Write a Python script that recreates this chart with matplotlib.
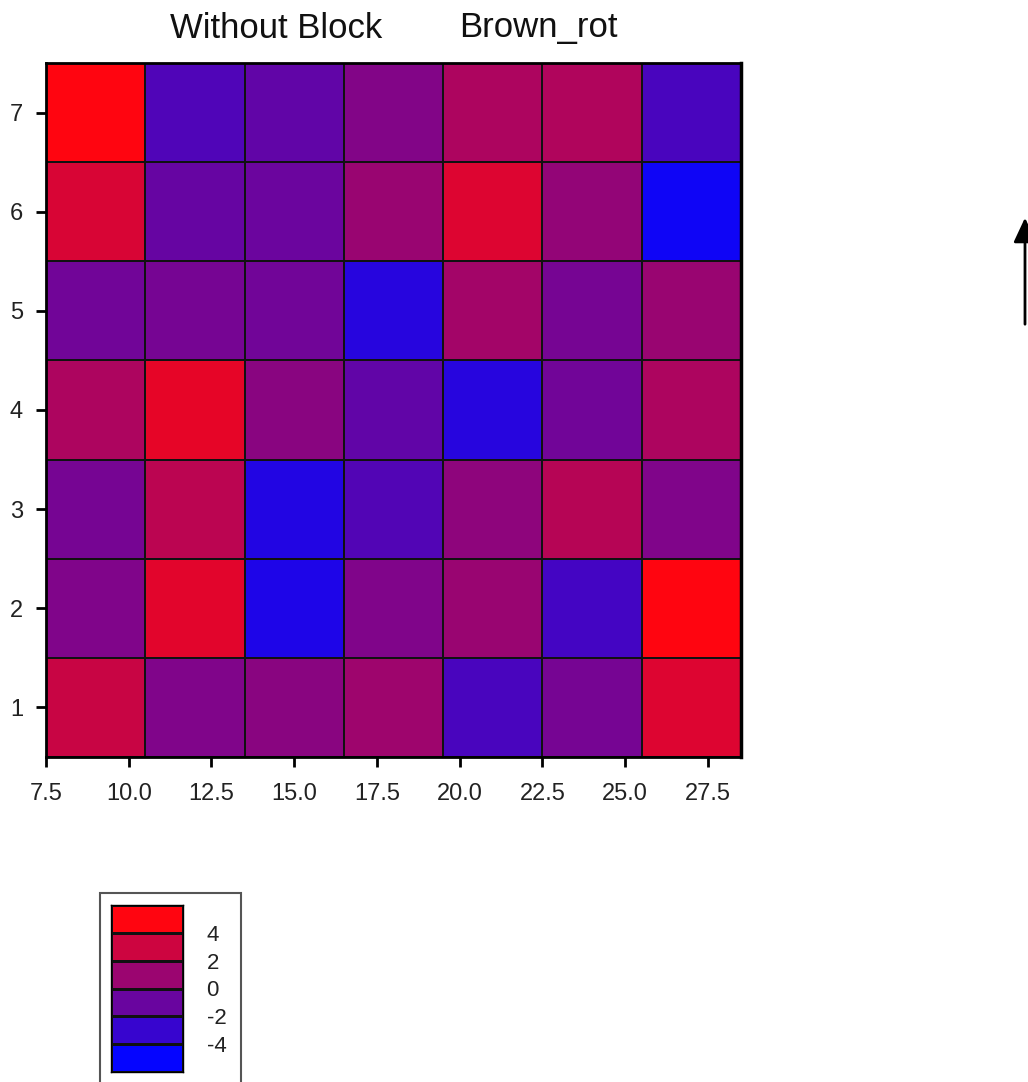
import matplotlib
matplotlib.use("Agg")
import matplotlib.pyplot as plt
import numpy as np
from matplotlib.colors import LinearSegmentedColormap, Normalize
from matplotlib.patches import Rectangle, FancyArrowPatch

plt.rcParams['font.family'] = ['Liberation Sans', 'DejaVu Sans']

# grid centres
x_centers = [9, 12, 15, 18, 21, 24, 27]
y_centers = [1, 2, 3, 4, 5, 6, 7]

# values per row, bottom (y=1) to top (y=7)
row1 = [2.8, -0.1, 0.3, 1.1, -2.3, -0.5, 3.6]
row2 = [-0.1, 3.8, -4.0, -0.1, 0.9, -2.5, 5.0]
row3 = [-0.5, 2.3, -3.8, -1.9, 0.5, 2.1, -0.1]
row4 = [1.7, 4.0, 0.3, -1.3, -3.6, -0.7, 1.7]
row5 = [-0.7, -0.5, -0.7, -3.6, 1.3, -0.5, 0.9]
row6 = [3.4, -1.1, -0.9, 0.9, 3.6, 0.7, -4.6]
row7 = [5.0, -2.0, -1.3, 0.0, 1.7, 1.8, -2.3]

x_ticks = [7.5, 10.0, 12.5, 15.0, 17.5, 20.0, 22.5, 25.0, 27.5]
legend_levels = [-4, -2, 0, 2, 4]
legend_blocks = [-5, -3, -1, 1, 3, 5]

Z = np.array([row1, row2, row3, row4, row5, row6, row7])
cmap = LinearSegmentedColormap.from_list('br', ['#0505ff', '#ff0510'])
norm = Normalize(vmin=-5, vmax=5)

W, H = 1028, 1082
fig = plt.figure(figsize=(W / 100, H / 100), dpi=100)

# main heatmap
ax = fig.add_axes([46 / W, 1 - 757 / H, (741 - 46) / W, (757 - 63) / H])
xe = np.concatenate([np.array(x_centers) - 1.5, [x_centers[-1] + 1.5]])
ye = np.concatenate([np.array(y_centers) - 0.5, [y_centers[-1] + 0.5]])
ax.pcolormesh(xe, ye, Z, cmap=cmap, norm=norm, edgecolors='#111111', linewidth=1.3)
ax.set_xlim(7.5, 28.5)
ax.set_ylim(0.5, 7.5)
ax.set_xticks(x_ticks)
ax.set_xticklabels(['%.1f' % v for v in x_ticks])
ax.set_yticks(y_centers)
ax.tick_params(axis='both', length=7.5, width=2, labelsize=17, labelcolor='#222222')
ax.tick_params(axis='x', pad=11)
ax.tick_params(axis='y', pad=9)
for s in ax.spines.values():
    s.set_linewidth(2)
ax.spines['right'].set_linewidth(2.5)

# title
fig.text(276 / W, 1 - 28 / H, 'Without Block', ha='center', va='center', fontsize=25, color='#111111')
fig.text(538 / W, 1 - 28 / H, 'Brown_rot', ha='center', va='center', fontsize=25, color='#111111')

# legend box
frame = Rectangle((100 / W, -0.05), (241 - 100) / W, (1 - 893 / H) + 0.05, transform=fig.transFigure,
                  fill=False, edgecolor='#555555', linewidth=1.5)
fig.patches.append(frame)
lax = fig.add_axes([111 / W, 1 - 1072 / H, (183 - 111) / W, (1072 - 905) / H])
bedges = np.array([-6] + legend_levels + [6])
lax.pcolormesh([0, 1], bedges, np.array(legend_blocks).reshape(-1, 1), cmap=cmap, norm=norm,
               edgecolors='#111111', linewidth=1.0)
lax.set_xlim(0, 1)
lax.set_ylim(-6, 6)
lax.set_xticks([])
lax.yaxis.tick_right()
lax.set_yticks(legend_levels)
lax.set_yticklabels([str(v) for v in legend_levels])
lax.tick_params(axis='y', length=0, labelsize=16, pad=17, labelcolor='#222222')
for s in lax.spines.values():
    s.set_linewidth(1.0)

# arrow on the right
arrow = FancyArrowPatch((1025 / W, 1 - 327 / H), (1025 / W, 1 - 215 / H), transform=fig.transFigure,
                        arrowstyle='-|>,head_length=0.75,head_width=0.35', mutation_scale=20,
                        color='black', linewidth=2)
fig.patches.append(arrow)

fig.savefig('out.png', dpi=100, facecolor='white')
